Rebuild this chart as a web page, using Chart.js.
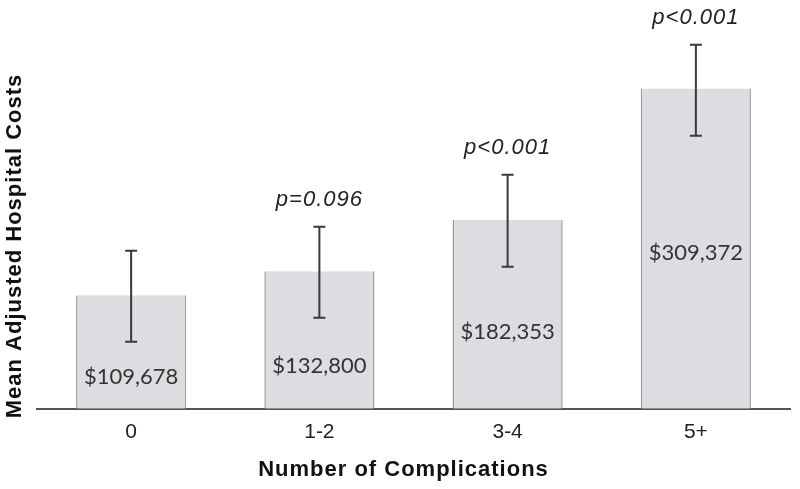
<!DOCTYPE html>
<html>
<head>
<meta charset="utf-8">
<script src="https://cdn.jsdelivr.net/npm/chart.js@4"></script>
<style>
  html, body { margin: 0; padding: 0; background: #fff; }
  #wrap { width: 800px; height: 489px; }
</style>
</head>
<body>
<div id="wrap"><canvas id="costChart"></canvas></div>
<script>
// values
const categories = ['0', '1-2', '3-4', '5+'];
const meanCosts = [109678, 132800, 182353, 309372];
const errHigh = [152600, 175800, 226000, 351600];
const errLow = [64700, 87900, 137200, 263700];
const pLabels = ['', 'p=0.096', 'p<0.001', 'p<0.001'];
const valueLabels = ['$109,678', '$132,800', '$182,353', '$309,372'];
// where the value label baseline sits, as a share of the bar height
const labelBaseFrac = [0.22, 0.26, 0.37, 0.465];

const xTitle = 'Number of Complications';
const yTitle = 'Mean Adjusted Hospital Costs';

const extras = {
  id: 'extras',
  afterDatasetsDraw(chart) {
    const ctx = chart.ctx;
    const x = chart.scales.x;
    const y = chart.scales.y;
    const area = chart.chartArea;
    ctx.save();

    // error bars
    ctx.strokeStyle = '#3a3a3a';
    ctx.lineWidth = 2;
    categories.forEach((c, i) => {
      const cx = x.getPixelForValue(i);
      const top = y.getPixelForValue(errHigh[i]);
      const bot = y.getPixelForValue(errLow[i]);
      ctx.beginPath();
      ctx.moveTo(cx, top); ctx.lineTo(cx, bot);
      ctx.moveTo(cx - 6, top); ctx.lineTo(cx + 6, top);
      ctx.moveTo(cx - 6, bot); ctx.lineTo(cx + 6, bot);
      ctx.stroke();
    });

    // value labels inside bars
    ctx.fillStyle = '#333';
    ctx.font = '22px Lato';
    ctx.textAlign = 'center';
    ctx.textBaseline = 'alphabetic';
    categories.forEach((c, i) => {
      const cx = x.getPixelForValue(i);
      ctx.fillText(valueLabels[i], cx, y.getPixelForValue(meanCosts[i] * labelBaseFrac[i]));
    });

    // p-values above error bars
    ctx.fillStyle = '#222';
    ctx.font = 'italic 22px "Liberation Sans"';
    ctx.letterSpacing = '1px';
    categories.forEach((c, i) => {
      if (!pLabels[i]) return;
      const cx = x.getPixelForValue(i);
      ctx.fillText(pLabels[i], cx, y.getPixelForValue(errHigh[i]) - 21);
    });

    // axis titles
    ctx.fillStyle = '#111';
    ctx.font = 'bold 22px "Liberation Sans"';
    ctx.textBaseline = 'middle';
    ctx.fillText(xTitle, (area.left + area.right) / 2 - 10, 470);
    ctx.translate(area.left - 22, 246);
    ctx.rotate(-Math.PI / 2);
    ctx.fillText(yTitle, 0, 0);
    ctx.restore();
  }
};

new Chart(document.getElementById('costChart'), {
  type: 'bar',
  data: {
    labels: categories,
    datasets: [{
      data: meanCosts,
      backgroundColor: '#dcdde0',
      borderColor: '#9a9b9e',
      borderWidth: { left: 1.5, right: 1.5, top: 0, bottom: 0 },
      borderSkipped: false,
      categoryPercentage: 1,
      barPercentage: 0.585
    }]
  },
  options: {
    responsive: true,
    maintainAspectRatio: false,
    animation: false,
    layout: { padding: { left: 37, right: 10, top: 5, bottom: 33 } },
    plugins: {
      legend: { display: false },
      tooltip: { enabled: false }
    },
    scales: {
      x: {
        grid: { display: false, drawTicks: false },
        border: { display: true, color: '#555', width: 2 },
        ticks: {
          color: '#222',
          padding: 11,
          font: { family: '"Liberation Sans"', size: 21 }
        }
      },
      y: {
        min: 0,
        max: 390000,
        display: true,
        grid: { display: false, drawTicks: false },
        border: { display: false },
        ticks: { display: false }
      }
    }
  },
  plugins: [extras]
});
</script>
</body>
</html>
